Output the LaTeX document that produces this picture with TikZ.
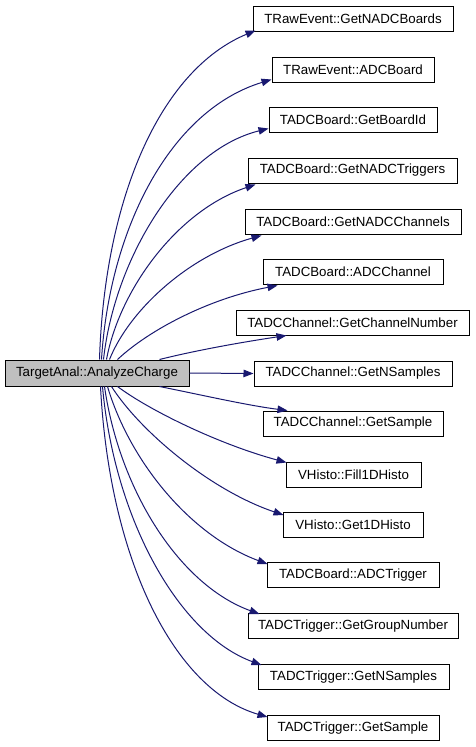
\documentclass[tikz,border=0pt]{standalone}
\usepackage{fontspec}
\setmainfont{Liberation Sans}
\usetikzlibrary{arrows.meta,calc}
\definecolor{edgeblue}{HTML}{191970}
\definecolor{srcgray}{HTML}{BFBFBF}
\tikzset{
  box/.style={draw=black, line width=1pt, fill=white, inner sep=0pt, minimum height=25,
    font=\fontsize{13.3}{16}\selectfont, anchor=center},
  srcbox/.style={box, fill=srcgray, minimum height=26},
  edge/.style={draw=edgeblue, line width=1pt, -{Triangle[length=10pt,width=7.5pt]}},
}
\begin{document}
\begin{tikzpicture}[x=1pt,y=-1pt]
\useasboundingbox[fill=white] (0,0) rectangle (475,747);
\node[srcbox, minimum width=184] (s) at (97,373) {TargetAnal::AnalyzeCharge};
\node[box, minimum width=200] (t1) at (353,18.5) {TRawEvent::GetNADCBoards};
\node[box, minimum width=162] (t2) at (353,69.5) {TRawEvent::ADCBoard};
\node[box, minimum width=168] (t3) at (353,119.5) {TADCBoard::GetBoardId};
\node[box, minimum width=209] (t4) at (352.5,170.5) {TADCBoard::GetNADCTriggers};
\node[box, minimum width=216] (t5) at (353,221.5) {TADCBoard::GetNADCChannels};
\node[box, minimum width=180] (t6) at (353,271.5) {TADCBoard::ADCChannel};
\node[box, minimum width=233] (t7) at (352.5,322.5) {TADCChannel::GetChannelNumber};
\node[box, minimum width=198] (t8) at (353,373.5) {TADCChannel::GetNSamples};
\node[box, minimum width=180] (t9) at (353,423.5) {TADCChannel::GetSample};
\node[box, minimum width=135] (t10) at (353.5,474.5) {VHisto::Fill1DHisto};
\node[box, minimum width=140] (t11) at (353,525) {VHisto::Get1DHisto};
\node[box, minimum width=172] (t12) at (353,575) {TADCBoard::ADCTrigger};
\node[box, minimum width=210] (t13) at (353,626) {TADCTrigger::GetGroupNumber};
\node[box, minimum width=191] (t14) at (353.5,677) {TADCTrigger::GetNSamples};
\node[box, minimum width=172] (t15) at (353,728) {TADCTrigger::GetSample};

% upper edges (leave top of source)
\draw[edge] ($(s.north west)+(95,0)$) .. controls +(5,-160) and +(-96,40) .. ($(t1.south west)+(3,-1)$);
\draw[edge] ($(s.north west)+(97,0)$) .. controls +(8,-130) and +(-102,31) .. ($(t2.south west)+(0,-3)$);
\draw[edge] ($(s.north west)+(99,0)$) .. controls +(11,-100) and +(-89,22) .. ($(t3.south west)+(0,-4)$);
\draw[edge] ($(s.north west)+(102,0)$) .. controls +(13,-70) and +(-78,26) .. ($(t4.south west)+(8,1)$);
\draw[edge] ($(s.north west)+(105,0)$) .. controls +(20,-50) and +(-72,20) .. ($(t5.south west)+(17,1)$);
\draw[edge] ($(s.north west)+(113,0)$) .. controls +(32,-30) and +(-68,13) .. ($(t6.south west)+(15,1)$);
\draw[edge] ($(s.north west)+(155,0)$) .. controls +(40,-10) and +(-40,6) .. ($(t7.south west)+(51,0)$);
% straight
\draw[edge] (s.east) -- (t8.west);
% lower edges (leave bottom of source)
\draw[edge] ($(s.south west)+(155,0)$) .. controls +(40,8) and +(-40,-5) .. ($(t9.north west)+(25,0)$);
\draw[edge] ($(s.south west)+(113,0)$) .. controls +(32,24) and +(-67,-18) .. ($(t10.north west)+(1,1)$);
\draw[edge] ($(s.south west)+(107,0)$) .. controls +(28,44) and +(-74,-25) .. ($(t11.north west)+(1,3)$);
\draw[edge] ($(s.south west)+(103,0)$) .. controls +(22,74) and +(-78,-29) .. ($(t12.north west)+(1,2)$);
\draw[edge] ($(s.south west)+(100,0)$) .. controls +(15,104) and +(-80,-29) .. ($(t13.north west)+(12,1)$);
\draw[edge] ($(s.south west)+(98,0)$) .. controls +(12,134) and +(-82,-30) .. ($(t14.north west)+(4,1)$);
\draw[edge] ($(s.south west)+(96,0)$) .. controls +(9,174) and +(-93,-27) .. ($(t15.north west)+(1,2)$);
\end{tikzpicture}
\end{document}
